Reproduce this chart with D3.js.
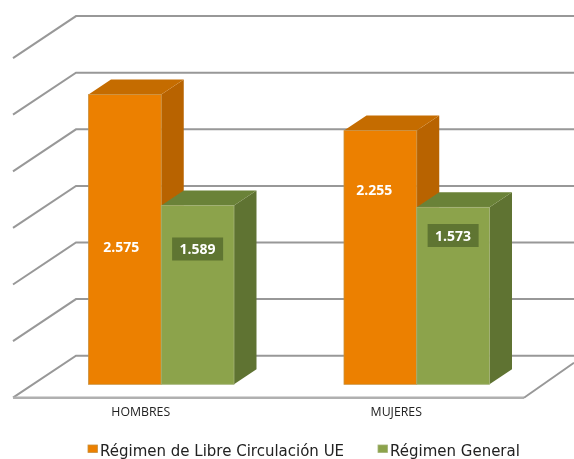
<!DOCTYPE html>
<html><head><meta charset="utf-8">
<style>html,body{margin:0;padding:0;background:#fff}svg{display:block}</style>
<script src="https://cdnjs.cloudflare.com/ajax/libs/d3/7.8.5/d3.min.js"></script>
</head><body><div id="chart"></div>
<script>
const categories = ["HOMBRES", "MUJERES"];
const seriesNames = ["Régimen de Libre Circulación UE", "Régimen General"];
const libreCirculacion = [2575, 2255];
const regimenGeneral = [1589, 1573];
const gridTicks = [0, 500, 1000, 1500, 2000, 2500, 3000];
const W = 574, H = 459;
const svg = d3.select("#chart").append("svg").attr("width", W).attr("height", H);
const defs = svg.append("defs");
defs.append("filter").attr("id","soft").attr("x","-5%").attr("y","-5%").attr("width","110%").attr("height","110%")
  .append("feGaussianBlur").attr("stdDeviation",0.55);
const root = svg.append("g").attr("filter","url(#soft)");

// geometry of the fake 3D box
const floorL = 13, floorR = 524, floorY = 397.7, wallDx = 63, wallDy = 42;
const y = d3.scaleLinear().domain([0,3000]).range([0,-339.6]);
const yBar = d3.scaleLinear().domain([0,3000]).range([0,-337.5]);
const x0 = d3.scaleBand().domain(categories).range([floorL, floorR]);
const x1 = d3.scaleBand().domain(d3.range(seriesNames.length)).range([0, 145.5]);
const barShift = 20.5, barFloorRise = 13.4, depthX = 22.5, depthY = 15;

// grid: wall + back lines
const grid = root.append("g").attr("fill","none").attr("stroke","#989898").attr("stroke-width",2);
gridTicks.forEach(t => {
  const yy = floorY + y(t);
  grid.append("path").attr("d", d3.line()([[floorL,yy],[floorL+wallDx,yy-wallDy],[W,yy-wallDy]]));
});
// floor front and right edge
grid.append("path").attr("stroke-width",2.6).attr("stroke","#b0b0b0")
  .attr("d", d3.line()([[floorL,floorY],[floorR,floorY]]));
grid.append("path").attr("stroke","#989898")
  .attr("d", d3.line()([[floorR,floorY],[W,floorY-35]]));

const palette = [
  {front:"#ec8000", side:"#b86400", top:"#c56c00", edge:"#c9913f"},
  {front:"#8ca34c", side:"#5f7332", top:"#6b8237", edge:"#a3b277"}
];
const series = [libreCirculacion, regimenGeneral];
const base = floorY - barFloorRise;
const groupLeft = c => x0(c) + (x0.bandwidth()-x1.step()*2)/2 + barShift;

function drawBar(i, s, v) {
  const c = palette[s];
  const bx = groupLeft(categories[i]) + x1(s);
  const w = x1.bandwidth();
  const top = base + yBar(v);
  const g = root.append("g");
  g.append("path").attr("fill",c.side).attr("d", d3.line()([[bx+w,top],[bx+w+depthX,top-depthY],[bx+w+depthX,base-depthY],[bx+w,base]])+"Z");
  g.append("path").attr("fill",c.top).attr("d", d3.line()([[bx,top],[bx+depthX,top-depthY],[bx+w+depthX,top-depthY],[bx+w,top]])+"Z");
  g.append("rect").attr("x",bx).attr("y",top).attr("width",w).attr("height",base-top).attr("fill",c.front).attr("stroke",c.edge).attr("stroke-width",0.8);
}
categories.forEach((_, i) => {
  drawBar(i,0,series[0][i]);
  drawBar(i,1,series[1][i]);
});

// data labels (hand placed in the source chart)
const fmt = v => d3.format(",")(v).replace(",",".");
const font = "'Open Sans', sans-serif";
const labelY = [[247,189.5],[249,235.5]];
const labelDx = [[-3.5,-6],[0,0]];
categories.forEach((c, i) => {
  series.forEach((vals, s) => {
    const cx = groupLeft(c) + x1(s) + x1.bandwidth()/2;
    const ly = labelY[s][i];
    if (s===1) root.append("rect").attr("x",cx-25.5).attr("y",ly-11.5).attr("width",51).attr("height",23).attr("fill","#5f7530");
    root.append("text").attr("x",cx + labelDx[s][i]).attr("y",ly).attr("dy","0.36em").attr("text-anchor","middle")
      .attr("font-family",font).attr("font-weight",700).attr("font-size",14).attr("fill","#fff").text(fmt(vals[i]));
  });
  root.append("text").attr("x",x0(c)+x0.bandwidth()/2).attr("y",412).attr("dy","0.36em").attr("text-anchor","middle")
    .attr("font-family",font).attr("font-size",12.3).attr("fill","#222").text(c);
});

// legend
const legendX = [88, 378], legendTextX = [100, 390];
seriesNames.forEach((n, s) => {
  root.append("rect").attr("x",legendX[s]).attr("y",445).attr("width",9.5).attr("height",7.5)
    .attr("fill",palette[s].front).attr("stroke",palette[s].edge).attr("stroke-width",0.8);
  root.append("text").attr("x",legendTextX[s]).attr("y",451).attr("dy","0.36em")
    .attr("font-family","'DejaVu Sans', sans-serif").attr("font-size",15).attr("fill","#222").text(n);
});
</script></body></html>
